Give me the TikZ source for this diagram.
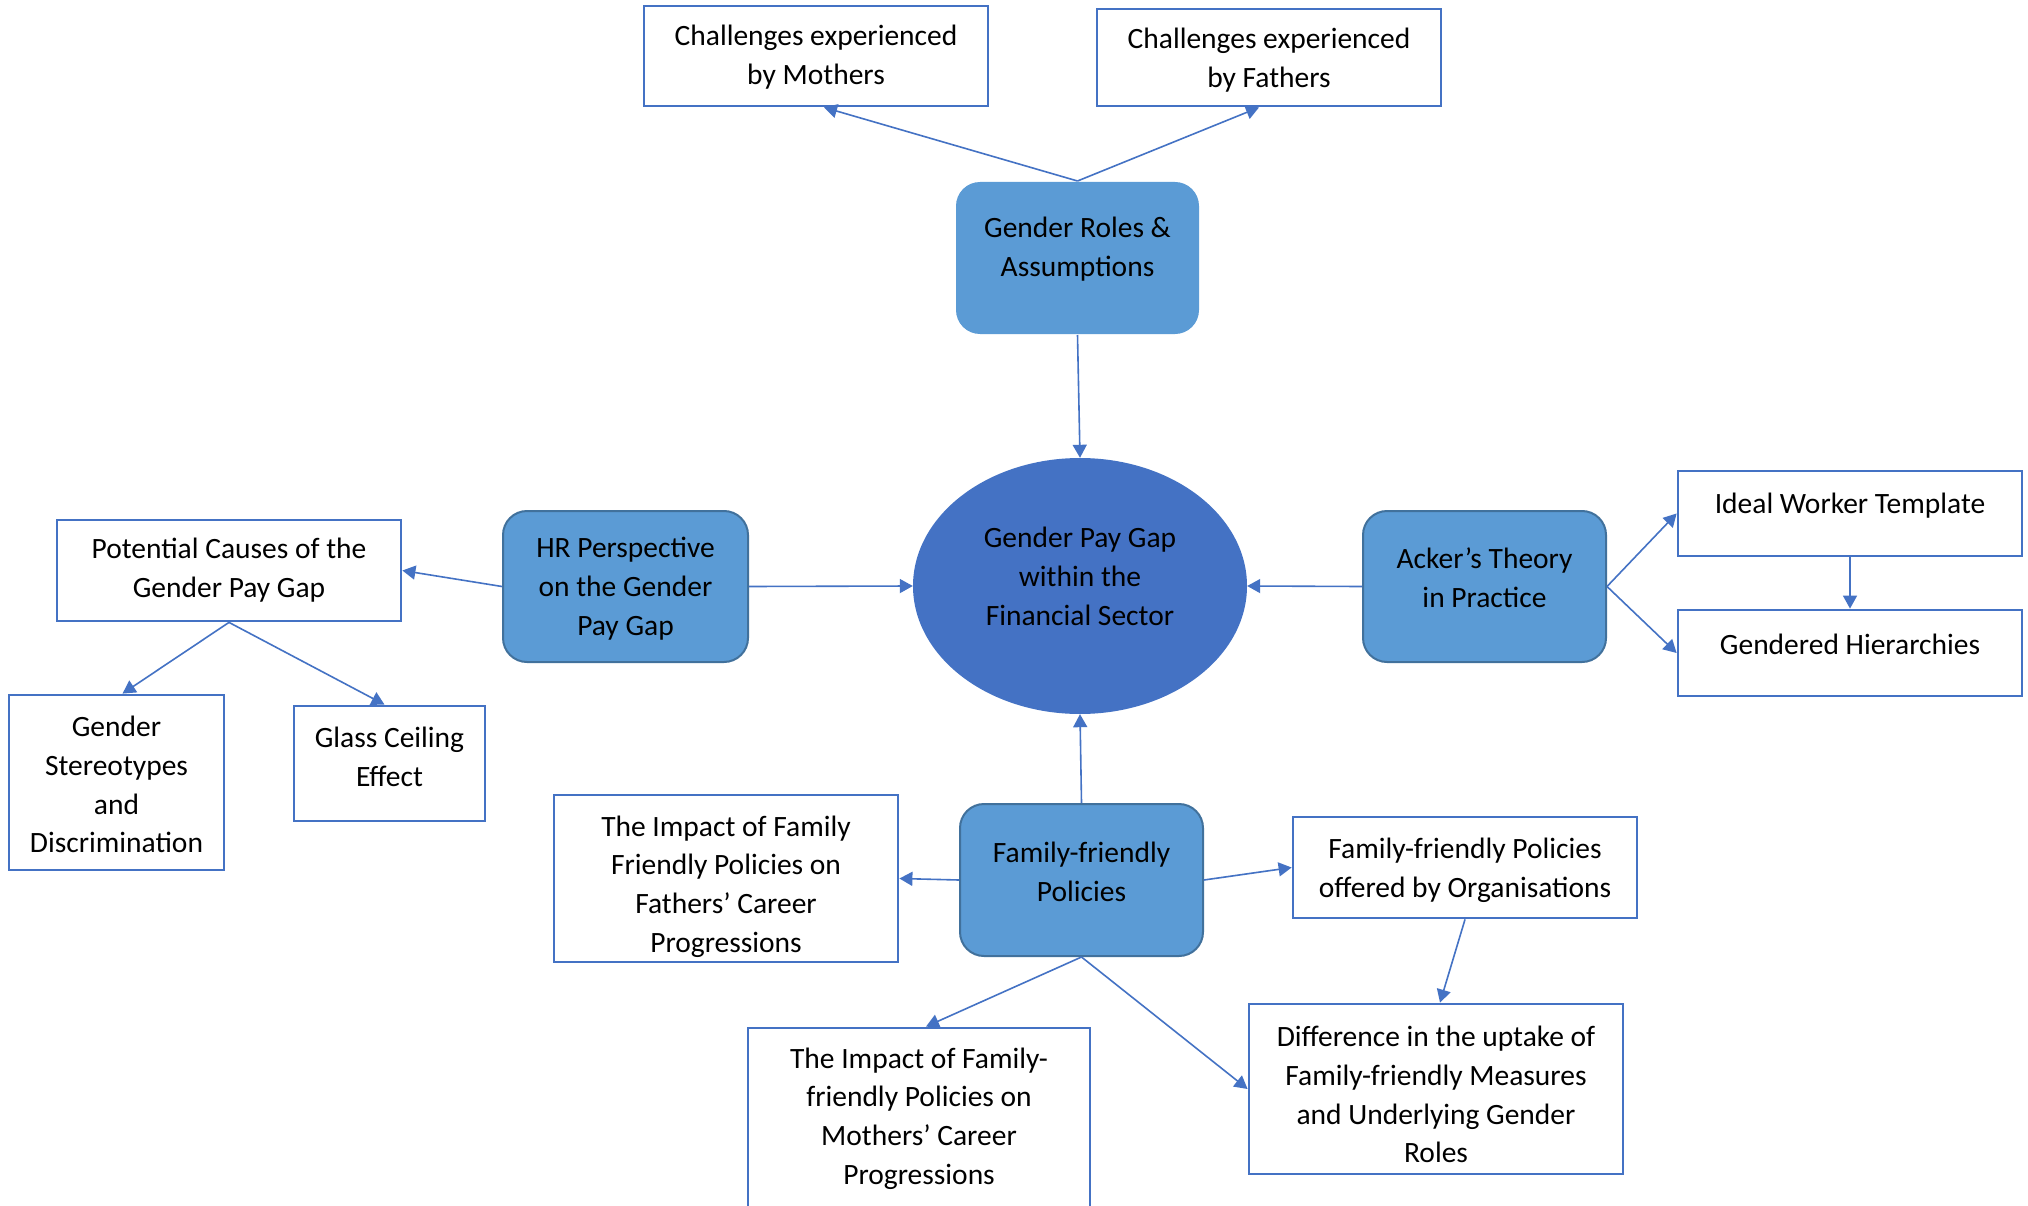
\documentclass[tikz,border=0pt]{standalone}
\usepackage{fontspec}
\setmainfont{Carlito}
\usetikzlibrary{arrows.meta,shapes.geometric}
\definecolor{bordblue}{HTML}{4472C4}
\definecolor{rfill}{HTML}{5B9BD5}
\definecolor{rdraw}{HTML}{41719C}
\definecolor{efill}{HTML}{4472C4}
\tikzset{
  plainbox/.style={draw=bordblue, line width=2.8pt, fill=white, rectangle, inner sep=0pt},
  roundbox/.style={draw=rdraw, line width=2pt, fill=rfill, rectangle, rounded corners=24pt, inner sep=0pt},
  txt/.style={align=center, inner sep=0pt, yshift=-2.5pt, font=\fontsize{29.5}{38.8}\selectfont, text=black},
  conn/.style={draw=bordblue, line width=1.6pt, -{Triangle[length=13pt,width=14pt]}, color=bordblue},
}
\begin{document}
\begin{tikzpicture}[x=1pt,y=-1pt]
\useasboundingbox (0,0) rectangle (2028,1206);
\clip (0,0) rectangle (2028,1206);
\fill[white] (0,0) rectangle (2028,1206);

% top
\node[plainbox, minimum width=344pt, minimum height=100pt] (mothers) at (816,56) {};
\node[txt] (mothersT) at (816,55) {Challenges experienced\\by Mothers};
\node[plainbox, minimum width=344pt, minimum height=97pt] (fathers) at (1269,57.5) {};
\node[txt] (fathersT) at (1269,58) {Challenges experienced\\by Fathers};
\node[roundbox, draw=none, minimum width=243pt, minimum height=152pt] (roles) at (1077.5,258) {};
\node[txt] (rolesT) at (1077.5,247) {Gender Roles \&\\Assumptions};

% centre
\node[ellipse, fill=efill, minimum width=334pt, minimum height=256pt, inner sep=0pt] (gpg) at (1080,586) {};
\node[txt] (gpgT) at (1080,574) {Gender Pay Gap\\within the\\Financial Sector};

% left
\node[roundbox, minimum width=245pt, minimum height=151pt] (hr) at (625.5,586.5) {};
\node[txt] (hrT) at (625.5,586) {HR Perspective\\on the Gender\\Pay Gap};
\node[plainbox, minimum width=344pt, minimum height=101pt] (causes) at (229,570.5) {};
\node[txt] (causesT) at (229,568) {Potential Causes of the\\Gender Pay Gap};
\node[plainbox, minimum width=215pt, minimum height=175pt] (stereo) at (116.5,782.5) {};
\node[txt] (stereoT) at (116.5,782) {Gender\\Stereotypes\\and\\Discrimination};
\node[plainbox, minimum width=191pt, minimum height=115pt] (glass) at (389.5,763.5) {};
\node[txt] (glassT) at (389.5,754) {Glass Ceiling\\Effect};

% right
\node[roundbox, minimum width=243pt, minimum height=151pt] (acker) at (1484.5,586.5) {};
\node[txt] (ackerT) at (1484.5,575) {Acker’s Theory\\in Practice};
\node[plainbox, minimum width=344pt, minimum height=85pt] (ideal) at (1850,513.5) {};
\node[txt] (idealT) at (1850,503) {Ideal Worker Template};
\node[plainbox, minimum width=344pt, minimum height=86pt] (hier) at (1850,653) {};
\node[txt] (hierT) at (1850,642) {Gendered Hierarchies};

% bottom
\node[roundbox, minimum width=243pt, minimum height=152pt] (ffp) at (1081.5,880) {};
\node[txt] (ffpT) at (1081.5,869) {Family-friendly\\Policies};
\node[plainbox, minimum width=344pt, minimum height=167pt] (fimp) at (726,878.5) {};
\node[txt] (fimpT) at (726,884) {The Impact of Family\\Friendly Policies on\\Fathers’ Career\\Progressions};
\node[plainbox, minimum width=344pt, minimum height=101pt] (offered) at (1465,867.5) {};
\node[txt] (offeredT) at (1465,868) {Family-friendly Policies\\offered by Organisations};
\node[plainbox, minimum width=342pt, minimum height=187pt] (mimp) at (919,1121.5) {};
\node[txt] (mimpT) at (919,1116) {The Impact of Family-\\friendly Policies on\\Mothers’ Career\\Progressions};
\node[plainbox, minimum width=374pt, minimum height=170pt] (diff) at (1436,1089) {};
\node[txt] (diffT) at (1436,1092) {Difference in the uptake of\\Family-friendly Measures\\and Underlying Gender\\Roles};

% connectors
\draw[conn] (roles.north) -- ([xshift=8pt]mothers.south);
\draw[conn] (roles.north) -- ([xshift=-10pt]fathers.south);
\draw[conn] (roles.south) -- (gpg.north);
\draw[conn] (hr.east) -- (gpg.west);
\draw[conn] (acker.west) -- (gpg.east);
\draw[conn] (ffp.north) -- (gpg.south);
\draw[conn] (hr.west) -- (causes.east);
\draw[conn] (causes.south) -- ([xshift=6pt]stereo.north);
\draw[conn] (causes.south) -- ([xshift=-5pt]glass.north);
\draw[conn] (acker.east) -- (ideal.west);
\draw[conn] (acker.east) -- (hier.west);
\draw[conn] (ideal.south) -- (hier.north);
\draw[conn] (ffp.west) -- (fimp.east);
\draw[conn] (ffp.east) -- (offered.west);
\draw[conn] (offered.south) -- ([xshift=4pt]diff.north);
\draw[conn] (ffp.south) -- ([xshift=7pt]mimp.north);
\draw[conn] (ffp.south) -- (diff.west);
\end{tikzpicture}
\end{document}
